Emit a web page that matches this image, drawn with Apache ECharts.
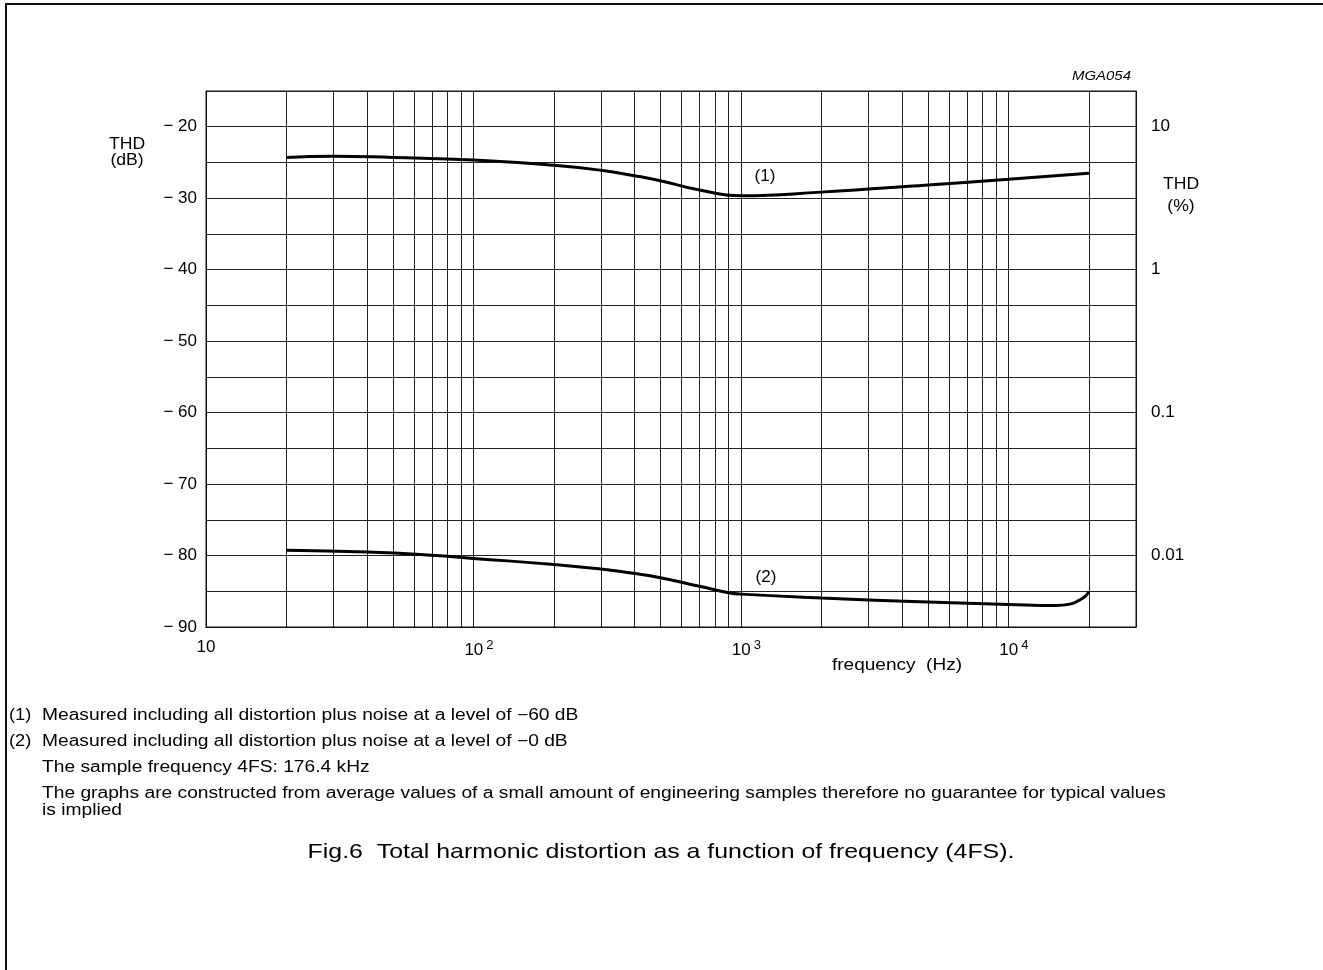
<!DOCTYPE html>
<html>
<head>
<meta charset="utf-8">
<script src="https://cdn.jsdelivr.net/npm/echarts@6/dist/echarts.min.js"></script>
<style>
html,body{margin:0;padding:0;background:#fff;}
#chart{width:1323px;height:970px;}
</style>
</head>
<body>
<div id="chart"></div>
<script>
// ---- data ----
const freq1 = [20, 30, 50, 100, 200, 300, 400, 500, 700, 1000, 2000, 5000, 10000, 20000];
const thd1  = [-24.3, -24.12, -24.3, -24.65, -25.4, -26.1, -26.85, -27.55, -28.85, -29.65, -29.15, -28.15, -27.35, -26.5];

const freq2 = [20, 40, 70, 100, 200, 300, 400, 500, 700, 900, 1000, 2000, 5000, 10000, 15000, 17000, 18500, 19500, 20000];
const thd2  = [-79.25, -79.5, -79.95, -80.4, -81.25, -81.9, -82.5, -83.1, -84.3, -85.2, -85.4, -85.95, -86.5, -86.85, -87.0, -86.8, -86.2, -85.6, -85.0];

const gridFreqs = [20, 30, 40, 50, 60, 70, 80, 90, 100, 200, 300, 400, 500, 600, 700, 800, 900, 1000, 2000, 3000, 4000, 5000, 6000, 7000, 8000, 9000, 10000, 20000];
const xTickExp = {10: '', 100: '2', 1000: '3', 10000: '4'};
const yLeftTicks = [-20, -30, -40, -50, -60, -70, -80, -90];
const yRightTicks = {'-20': '10', '-40': '1', '-60': '0.1', '-80': '0.01'};
const curveLabels = [{name: '(1)', coord: [1230, -27.0]}, {name: '(2)', coord: [1240, -83.0]}];

const footnotes = [
  ['(1)', 'Measured including all distortion plus noise at a level of \u221260 dB'],
  ['(2)', 'Measured including all distortion plus noise at a level of \u22120 dB'],
  ['', 'The sample frequency 4FS: 176.4 kHz'],
  ['', 'The graphs are constructed from average values of a small amount of engineering samples therefore no guarantee for typical values\nis implied']
];
const caption = 'Fig.6  Total harmonic distortion as a function of frequency (4FS).';

const FONT = '"Liberation Sans", Arial, sans-serif';
const chart = echarts.init(document.getElementById('chart'));

function txt(x, y, text, size, sx, align, extra) {
  return {type: 'text', x: x, y: y, scaleX: sx, silent: true,
    style: Object.assign({text: text, x: 0, y: 0, font: size + 'px ' + FONT, fill: '#000', textAlign: align || 'left', textVerticalAlign: 'middle'}, extra || {})};
}

const graphics = [
  {type: 'line', shape: {x1: 6, y1: 4, x2: 6, y2: 970}, style: {stroke: '#111', lineWidth: 2}},
  {type: 'line', shape: {x1: 5, y1: 4, x2: 1323, y2: 4}, style: {stroke: '#111', lineWidth: 2}},
  txt(1131, 76, 'MGA054', 13, 1.15, 'right', {font: 'italic 13px ' + FONT}),
  txt(127, 145, 'THD', 16, 1.1, 'center'),
  txt(127, 161, '(dB)', 16, 1.1, 'center'),
  txt(1181, 185, 'THD', 16, 1.1, 'center'),
  txt(1181, 207, '(%)', 16, 1.1, 'center'),
  txt(897, 666, 'frequency  (Hz)', 16, 1.19, 'center'),
  txt(661, 852, caption, 21, 1.185, 'center')
];
const footY = [716, 742, 768, 794];
footnotes.forEach((f, i) => {
  if (f[0]) graphics.push(txt(9, footY[i], f[0], 16, 1.14, 'left'));
  const parts = f[1].split('\n');
  parts.forEach((p, j) => graphics.push(txt(42, footY[i] + j * 17, p, 16, 1.2, 'left')));
});

const option = {
  backgroundColor: '#fff',
  animation: false,
  textStyle: {fontFamily: FONT},
  grid: {left: 206, right: 187, top: 91, bottom: 343, show: true, borderColor: '#111', borderWidth: 1, backgroundColor: 'transparent'},
  xAxis: {
    type: 'log', logBase: 10, min: 10, max: 30000,
    axisLine: {show: true, lineStyle: {color: '#111', width: 1}},
    axisTick: {show: false},
    splitLine: {show: false},
    axisLabel: {
      margin: 12,
      formatter: function (v) {
        const k = String(Math.round(v));
        if (!(k in xTickExp) || Math.abs(v - Math.round(v)) > 1e-6) return '';
        const e = xTickExp[k];
        return e ? '{sp|}{b|10}{s|' + e + '}' : '{b|10}';
      },
      rich: {
        b: {fontSize: 17, color: '#000', fontFamily: FONT},
        s: {fontSize: 13, color: '#000', fontFamily: FONT, verticalAlign: 'top', padding: [0, 0, 9, 3]},
        sp: {width: 11}
      }
    }
  },
  yAxis: [{
    type: 'value', min: -90, max: -15, interval: 5,
    axisLine: {show: true, lineStyle: {color: '#111'}},
    axisTick: {show: false},
    splitLine: {show: true, lineStyle: {color: '#222', width: 1}},
    axisLabel: {
      margin: 9, fontSize: 17, color: '#000',
      formatter: v => yLeftTicks.indexOf(v) >= 0 ? '\u2212 ' + Math.abs(v) : ''
    }
  }, {
    type: 'value', min: -90, max: -15, interval: 5, position: 'right',
    axisLine: {show: true, lineStyle: {color: '#111'}},
    axisTick: {show: false},
    splitLine: {show: false},
    axisLabel: {
      margin: 15, fontSize: 17, color: '#000',
      formatter: v => yRightTicks[String(v)] || ''
    }
  }],
  graphic: graphics,
  series: [
    {
      type: 'line', data: [], z: 1, silent: true,
      markLine: {
        silent: true, symbol: ['none', 'none'], animation: false,
        label: {show: false},
        lineStyle: {color: '#222', width: 1, type: 'solid'},
        emphasis: {disabled: true},
        data: gridFreqs.map(f => ({xAxis: f}))
      }
    },
    {
      type: 'line', z: 5, showSymbol: false, smooth: 0.5,
      lineStyle: {color: '#000', width: 3},
      data: freq1.map((f, i) => [f, thd1[i]]),
      markPoint: {
        symbol: 'circle', symbolSize: 0,
        label: {show: true, formatter: '{b}', color: '#000', fontSize: 17, fontFamily: FONT, position: 'inside'},
        data: [curveLabels[0]]
      }
    },
    {
      type: 'line', z: 5, showSymbol: false, smooth: 0.5,
      lineStyle: {color: '#000', width: 3},
      data: freq2.map((f, i) => [f, thd2[i]]),
      markPoint: {
        symbol: 'circle', symbolSize: 0,
        label: {show: true, formatter: '{b}', color: '#000', fontSize: 17, fontFamily: FONT, position: 'inside'},
        data: [curveLabels[1]]
      }
    }
  ]
};
chart.setOption(option);
</script>
</body>
</html>
